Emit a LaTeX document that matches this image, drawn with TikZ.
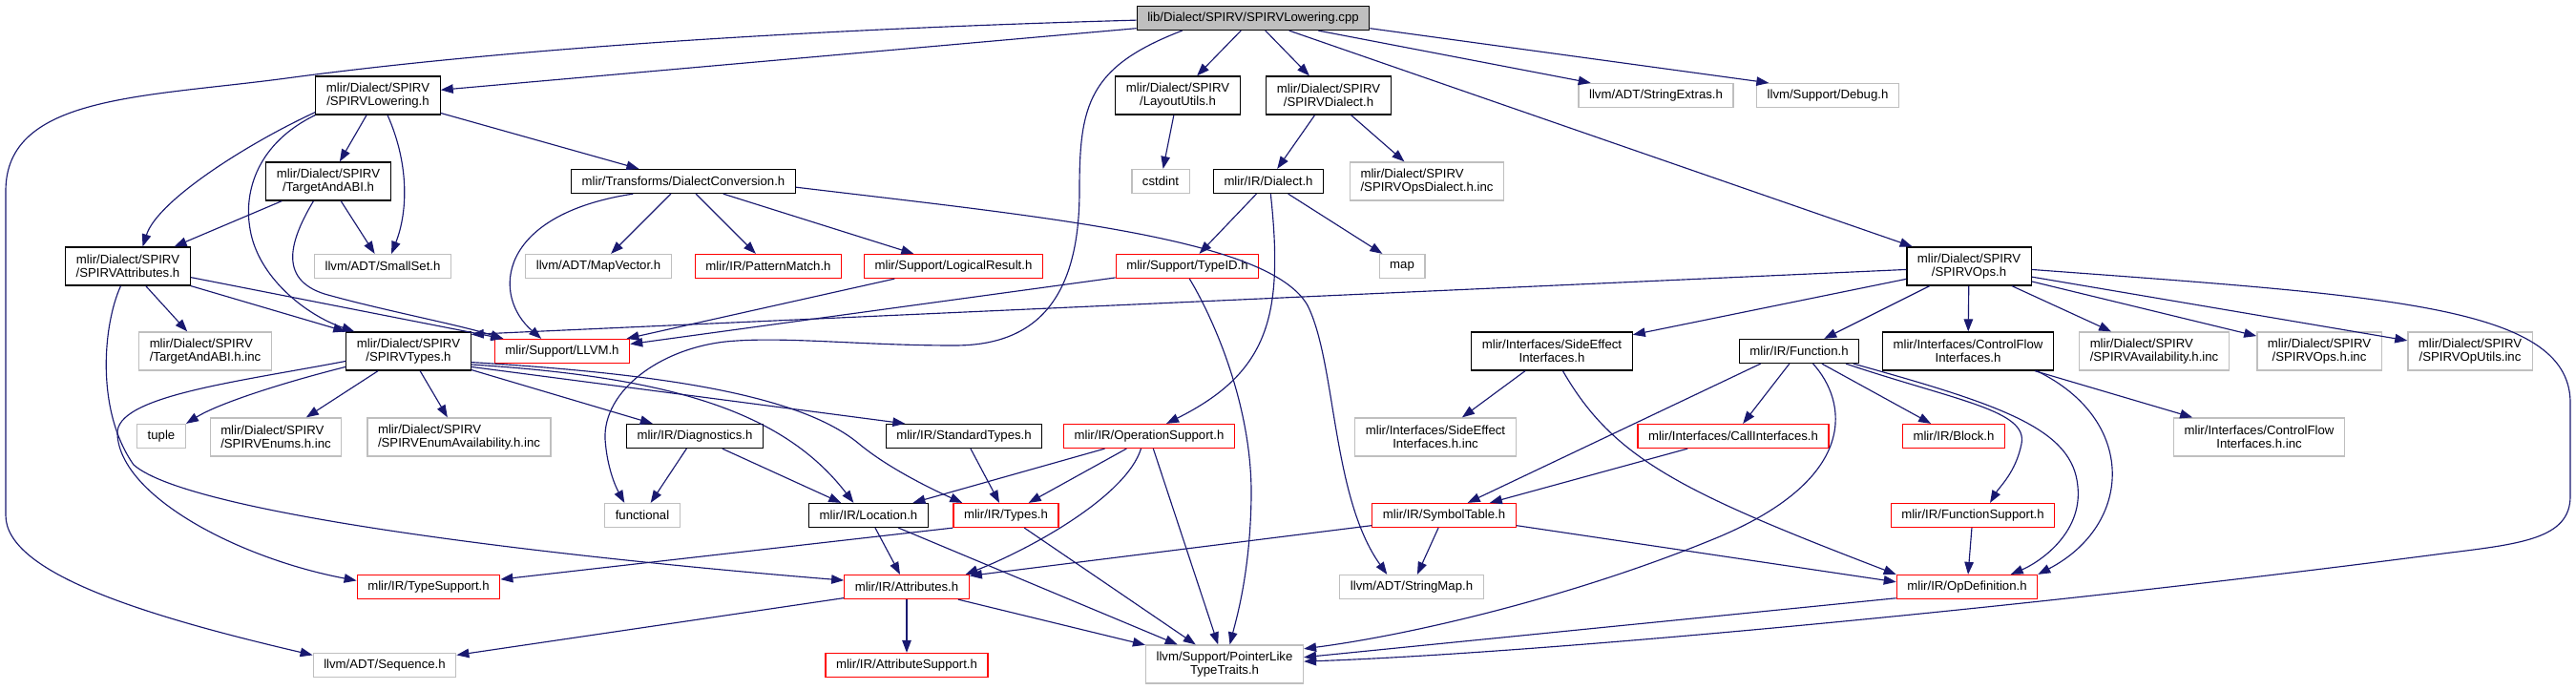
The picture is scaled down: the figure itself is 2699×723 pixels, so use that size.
\documentclass[tikz,border=0pt]{standalone}
\usepackage{fontspec}
\setmainfont{Liberation Sans}
\usetikzlibrary{arrows.meta}
\definecolor{edgeblue}{HTML}{191970}
\definecolor{extgray}{HTML}{BFBFBF}
\definecolor{curgray}{HTML}{BFBFBF}
\definecolor{truncred}{HTML}{FF0000}

\begin{document}
\begin{tikzpicture}[x=0.02cm, y=-0.02cm,
  box/.style={rectangle, font=\fontsize{7.5}{8.1}\selectfont, inner xsep=6.3pt,
    inner ysep=0pt, minimum height=0.5cm, align=center, line width=0.7pt},
  two/.style={minimum height=0.8cm},
  incl/.style={box, draw=black},
  ext/.style={box, draw=extgray},
  trunc/.style={box, draw=truncred},
  cur/.style={box, draw=black, fill=curgray},
  dep/.style={draw=edgeblue, line width=0.65pt,
    -{Triangle[length=0.26cm, width=0.19cm]}}]
\useasboundingbox (0,0) rectangle (2699,723);
% ----- the file itself -----
\node[cur] (cpp) at (1313,19) {lib/Dialect/SPIRV/SPIRVLowering.cpp};
% ----- rank 1 -----
\node[incl,two] (lowh) at (396,100) {mlir/Dialect/SPIRV\\/SPIRVLowering.h};
\node[incl,two] (layout) at (1234,100) {mlir/Dialect/SPIRV\\/LayoutUtils.h};
\node[incl,two] (spvdialect) at (1392,100) {mlir/Dialect/SPIRV\\/SPIRVDialect.h};
\node[ext] (strextras) at (1735,100) {llvm/ADT/StringExtras.h};
\node[ext] (debug) at (1915,100) {llvm/Support/Debug.h};
% ----- rank 2 -----
\node[incl,two] (abi) at (344,190) {mlir/Dialect/SPIRV\\/TargetAndABI.h};
\node[incl] (dconv) at (716,190) {mlir/Transforms/DialectConversion.h};
\node[ext] (cstdint) at (1216,190) {cstdint};
\node[incl] (dialect) at (1329,190) {mlir/IR/Dialect.h};
\node[ext,two,align=left] (opsdialectinc) at (1495,190) {mlir/Dialect/SPIRV\\/SPIRVOpsDialect.h.inc};
% ----- rank 3 -----
\node[incl,two] (spvattr) at (134,279) {mlir/Dialect/SPIRV\\/SPIRVAttributes.h};
\node[ext] (smallset) at (401,279) {llvm/ADT/SmallSet.h};
\node[ext] (mapvector) at (627,279) {llvm/ADT/MapVector.h};
\node[trunc] (patmatch) at (805,279) {mlir/IR/PatternMatch.h};
\node[trunc] (logres) at (999,279) {mlir/Support/LogicalResult.h};
\node[trunc] (typeid) at (1244,279) {mlir/Support/TypeID.h};
\node[ext] (map) at (1469,279) {map};
\node[incl,two] (spvops) at (2063,279) {mlir/Dialect/SPIRV\\/SPIRVOps.h};
% ----- rank 4 -----
\node[ext,two,align=left] (abiinc) at (215,368) {mlir/Dialect/SPIRV\\/TargetAndABI.h.inc};
\node[incl,two] (spvtypes) at (428,368) {mlir/Dialect/SPIRV\\/SPIRVTypes.h};
\node[trunc] (llvmh) at (589,368) {mlir/Support/LLVM.h};
\node[incl,two] (sideeff) at (1626,368) {mlir/Interfaces/SideEffect\\Interfaces.h};
\node[incl] (function) at (1885,368) {mlir/IR/Function.h};
\node[incl,two] (cflow) at (2062,368) {mlir/Interfaces/ControlFlow\\Interfaces.h};
\node[ext,two,align=left] (availinc) at (2257,368) {mlir/Dialect/SPIRV\\/SPIRVAvailability.h.inc};
\node[ext,two] (opsinc) at (2430,368) {mlir/Dialect/SPIRV\\/SPIRVOps.h.inc};
\node[ext,two] (oputils) at (2588,368) {mlir/Dialect/SPIRV\\/SPIRVOpUtils.inc};
% ----- rank 5 -----
\node[ext] (tuple) at (169,457) {tuple};
\node[ext,two,align=left] (enumsinc) at (289,458) {mlir/Dialect/SPIRV\\/SPIRVEnums.h.inc};
\node[ext,two,align=left] (enumavinc) at (481,458) {mlir/Dialect/SPIRV\\/SPIRVEnumAvailability.h.inc};
\node[incl] (diag) at (728,457) {mlir/IR/Diagnostics.h};
\node[incl] (stdtypes) at (1010,457) {mlir/IR/StandardTypes.h};
\node[trunc] (opsupport) at (1204,457) {mlir/IR/OperationSupport.h};
\node[ext,two] (sideeffinc) at (1504,458) {mlir/Interfaces/SideEffect\\Interfaces.h.inc};
\node[trunc] (callif) at (1816,457) {mlir/Interfaces/CallInterfaces.h};
\node[trunc] (block) at (2047,457) {mlir/IR/Block.h};
\node[ext,two] (cflowinc) at (2367,458) {mlir/Interfaces/ControlFlow\\Interfaces.h.inc};
% ----- rank 6 -----
\node[ext] (functional) at (673,540) {functional};
\node[incl] (location) at (910,540) {mlir/IR/Location.h};
\node[trunc] (irtypes) at (1054,540) {mlir/IR/Types.h};
\node[trunc] (symtab) at (1513,540) {mlir/IR/SymbolTable.h};
\node[trunc] (funcsupport) at (2067,540) {mlir/IR/FunctionSupport.h};
% ----- rank 7 -----
\node[trunc] (typesupport) at (449,615) {mlir/IR/TypeSupport.h};
\node[trunc] (irattrs) at (950,615) {mlir/IR/Attributes.h};
\node[ext] (strmap) at (1479,615) {llvm/ADT/StringMap.h};
\node[trunc] (opdef) at (2061,615) {mlir/IR/OpDefinition.h};
% ----- rank 8 -----
\node[ext] (sequence) at (403,697) {llvm/ADT/Sequence.h};
\node[trunc] (attrsupport) at (950,697) {mlir/IR/AttributeSupport.h};
\node[ext,two] (ptrlike) at (1283,696) {llvm/Support/PointerLike\\TypeTraits.h};

% ----- includes of the .cpp -----
\draw[dep] (cpp.185) -- (lowh.5);
\draw[dep] (cpp.181) .. controls (800,32) and (500,55) .. (300,82)
  .. controls (150,102) and (6,100) .. (6,200) -- (6,540)
  .. controls (6,600) and (150,645) .. (sequence.172);
\draw[dep] (cpp.190) .. controls (1140,70) and (1131,110) .. (1131,200)
  .. controls (1131,320) and (1080,362) .. (1000,362)
  .. controls (900,362) and (820,352) .. (760,358)
  .. controls (690,366) and (632,410) .. (634,460)
  .. controls (636,490) and (645,510) .. (functional.145);
\draw[dep] (cpp) -- (layout);
\draw[dep] (cpp) -- (spvdialect);
\draw[dep] (cpp) -- (spvops);
\draw[dep] (cpp) -- (strextras);
\draw[dep] (cpp.-5) -- (debug.168);
% ----- SPIRVLowering.h, TargetAndABI.h, SPIRVAttributes.h -----
\draw[dep] (lowh.195) .. controls (260,150) and (165,210) .. (spvattr.53);
\draw[dep] (lowh.south west) .. controls (270,150) and (255,200) .. (262,240)
  .. controls (270,290) and (320,330) .. (spvtypes.160);
\draw[dep] (lowh) -- (abi);
\draw[dep] (lowh.-64) .. controls (428,170) and (428,220) .. (smallset.55);
\draw[dep] (lowh) -- (dconv);
\draw[dep] (abi) -- (spvattr);
\draw[dep] (abi) -- (smallset);
\draw[dep] (abi.233) .. controls (305,250) and (290,292) .. (340,308)
  .. controls (400,325) and (480,340) .. (llvmh.168);
\draw[dep] (spvattr) -- (abiinc);
\draw[dep] (spvattr.south east) -- (spvtypes.north west);
\draw[dep] (spvattr.-10) -- (llvmh.168);
\draw[dep] (spvattr.250) .. controls (108,340) and (100,430) .. (140,487)
  .. controls (200,540) and (600,585) .. (irattrs.174);
% ----- SPIRVTypes.h -----
\draw[dep] (spvtypes.194) .. controls (300,400) and (230,422) .. (tuple.north east);
\draw[dep] (spvtypes) -- (enumsinc);
\draw[dep] (spvtypes) -- (enumavinc);
\draw[dep] (spvtypes.189) .. controls (250,400) and (120,415) .. (123,455)
  .. controls (126,520) and (250,585) .. (typesupport.175);
\draw[dep] (spvtypes) -- (diag);
\draw[dep] (spvtypes.-12) .. controls (700,395) and (820,430) .. (location.140);
\draw[dep] (spvtypes.-14) -- (stdtypes.168);
\draw[dep] (spvtypes.-10) .. controls (700,392) and (840,415) .. (900,465)
  .. controls (930,490) and (975,512) .. (irtypes.164);
% ----- IR core -----
\draw[dep] (diag) -- (functional);
\draw[dep] (diag) -- (location);
\draw[dep] (location) -- (irattrs);
\draw[dep] (location) -- (ptrlike);
\draw[dep] (stdtypes) -- (irtypes);
\draw[dep] (irtypes.south west) -- (typesupport.6);
\draw[dep] (irtypes) -- (ptrlike);
\draw[dep] (opsupport) -- (location);
\draw[dep] (opsupport) -- (irtypes);
\draw[dep] (opsupport.237) .. controls (1180,520) and (1080,575) .. (irattrs.12);
\draw[dep] (opsupport) -- (ptrlike);
\draw[dep] (irattrs.190) -- (sequence.8);
\draw[dep] (irattrs) -- (attrsupport);
\draw[dep] (irattrs) -- (ptrlike);
% ----- dialect side -----
\draw[dep] (spvdialect) -- (dialect);
\draw[dep] (spvdialect) -- (opsdialectinc);
\draw[dep] (layout) -- (cstdint);
\draw[dep] (dialect) -- (typeid);
\draw[dep] (dialect) -- (map);
\draw[dep] (dialect.-80) .. controls (1345,330) and (1330,390) .. (opsupport.36);
\draw[dep] (typeid.189) -- (llvmh.6);
\draw[dep] (typeid.-80) .. controls (1275,340) and (1312,430) .. (1311,520)
  .. controls (1310,600) and (1295,650) .. (ptrlike.75);
\draw[dep] (dconv.194) .. controls (520,225) and (515,310) .. (llvmh.149);
\draw[dep] (dconv) -- (mapvector);
\draw[dep] (dconv) -- (patmatch);
\draw[dep] (dconv) -- (logres);
\draw[dep] (dconv.-3) .. controls (1100,228) and (1330,250) .. (1370,320)
  .. controls (1400,380) and (1395,520) .. (strmap.153);
\draw[dep] (logres.192) -- (llvmh.11);
% ----- SPIRVOps.h -----
\draw[dep] (spvops.183) -- (spvtypes.15);
\draw[dep] (spvops) -- (sideeff);
\draw[dep] (spvops) -- (function);
\draw[dep] (spvops) -- (cflow);
\draw[dep] (spvops) -- (availinc);
\draw[dep] (spvops) -- (opsinc);
\draw[dep] (spvops) -- (oputils);
\draw[dep] (spvops.-3) .. controls (2500,310) and (2690,320) .. (2693,420) -- (2693,520)
  .. controls (2693,565) and (2640,570) .. (2560,580)
  .. controls (2100,640) and (1600,685) .. (ptrlike.2);
% ----- interfaces -----
\draw[dep] (sideeff) -- (sideeffinc);
\draw[dep] (sideeff.-61) .. controls (1690,480) and (1760,515) .. (opdef.north west);
\draw[dep] (function.198) -- (symtab.28);
\draw[dep] (function) -- (callif);
\draw[dep] (function.-42) .. controls (1935,420) and (1950,500) .. (1800,563)
  .. controls (1650,625) and (1480,665) .. (ptrlike.11);
\draw[dep] (function) -- (block);
\draw[dep] (function.-15) .. controls (2050,420) and (2125,430) .. (2118,465)
  .. controls (2112,495) and (2095,510) .. (funcsupport.36);
\draw[dep] (function.-13) .. controls (2100,425) and (2172,450) .. (2177,510)
  .. controls (2182,560) and (2135,590) .. (opdef.16);
\draw[dep] (cflow) -- (cflowinc);
\draw[dep] (cflow.-16) .. controls (2240,440) and (2235,550) .. (opdef.north east);
\draw[dep] (callif) -- (symtab);
\draw[dep] (symtab.188) -- (irattrs.10);
\draw[dep] (symtab) -- (strmap);
\draw[dep] (symtab.-8) -- (opdef.176);
\draw[dep] (funcsupport) -- (opdef);
\draw[dep] (opdef.189) -- (ptrlike.5);
\end{tikzpicture}
\end{document}
